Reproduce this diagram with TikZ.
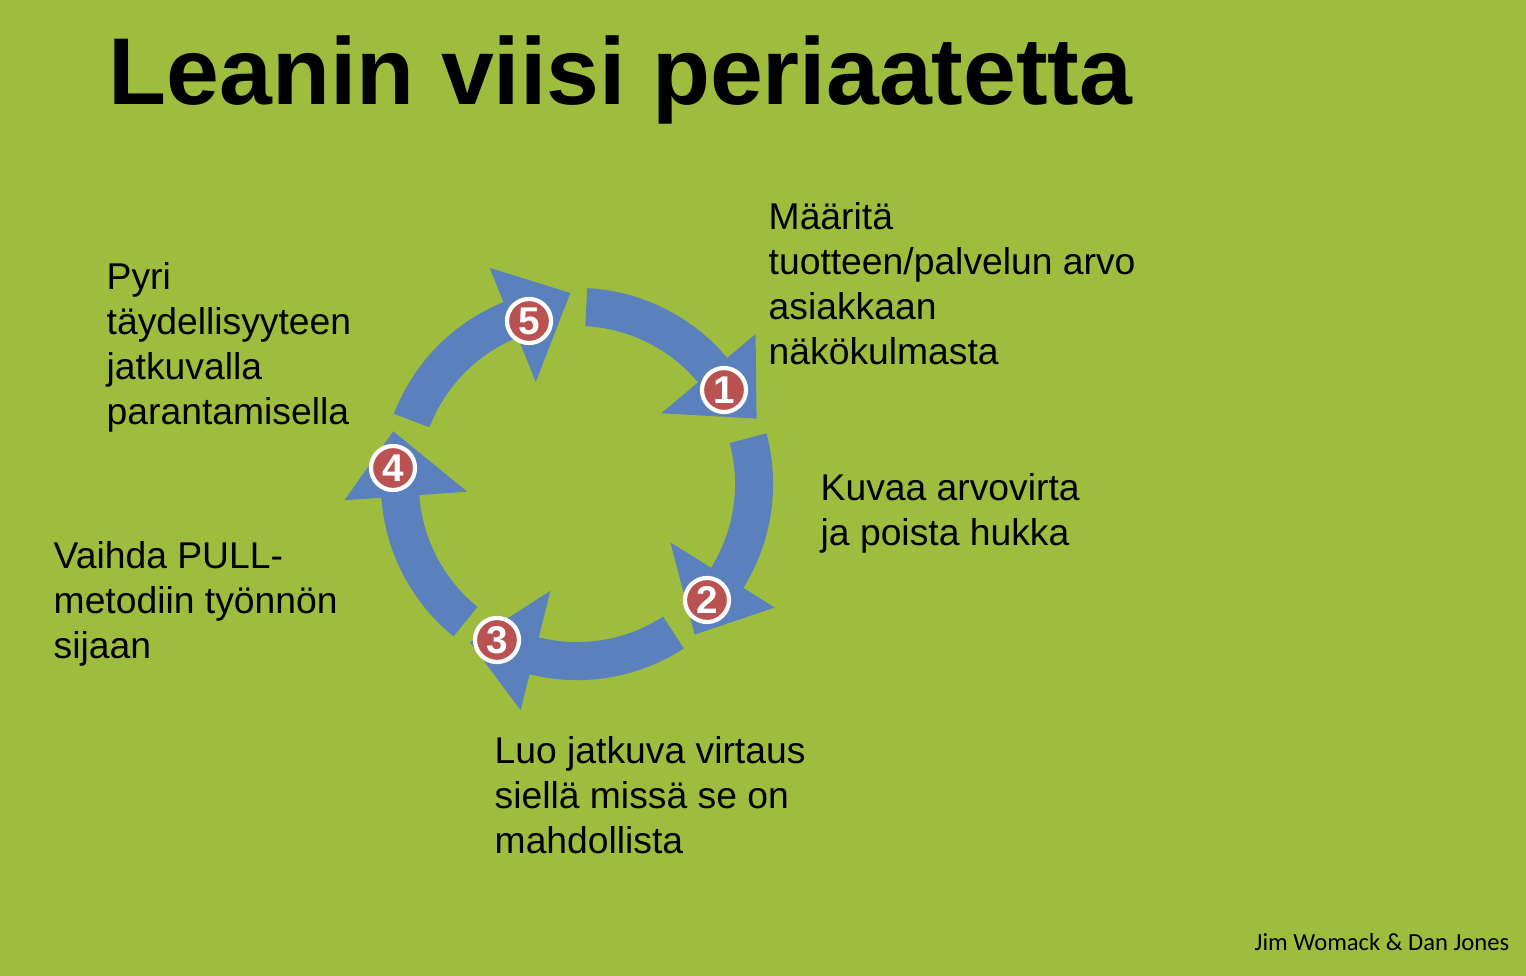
\documentclass[tikz,border=0pt]{standalone}
\usepackage{fontspec}
\setmainfont{Liberation Sans}
\newfontfamily\credfont{Carlito}
\definecolor{leafgreen}{RGB}{158,189,62}
\definecolor{flowblue}{RGB}{91,128,190}
\definecolor{badgered}{RGB}{186,82,82}
\begin{document}
\begin{tikzpicture}[
	x=0.01cm, y=-0.01cm,
	badge/.style={
		circle,
		draw=white,
		line width=1.2pt,
		fill=badgered,
		text=white,
		font=\bfseries\fontsize{11}{11}\selectfont,
		inner sep=0pt,
		minimum size=0.44cm
	},
	principle/.style={
		anchor=north west,
		align=left,
		inner sep=0pt,
		font=\fontsize{10.6}{12.8}\selectfont
	},
	flow/.style={fill=flowblue}
]
\fill[leafgreen] (0,0) rectangle (1526,976);

% Title
\node[anchor=base west, inner sep=0pt, font=\bfseries\fontsize{27}{30}\selectfont]
	(title) at (108,105) {Leanin viisi periaatetta};

% Arrows
\begin{scope}[shift={(577,484)}]
\foreach \a in {87, 15, -57, -129, -201}
	\fill[flow] (\a:1.58cm) arc[start angle=\a, end angle=\a-47, radius=1.58cm]
		-- (\a-47:1.10cm) -- (\a-67:1.91cm) -- (\a-47:2.33cm) -- (\a-47:1.96cm)
		arc[start angle=\a-47, end angle=\a, radius=1.96cm] -- cycle;
\end{scope}

% Badges
\node[badge] (b1) at (724,390) {1};
\node[badge] (b2) at (707,600) {2};
\node[badge] (b3) at (497,640) {3};
\node[badge] (b4) at (393,468) {4};
\node[badge] (b5) at (529,321) {5};

% Texts
\node[principle] (t1) at (768,202) {Määritä\\tuotteen/palvelun arvo\\asiakkaan\\näkökulmasta};
\node[principle] (t2) at (820,473) {Kuvaa arvovirta\\ja poista hukka};
\node[principle] (t3) at (494,736) {Luo jatkuva virtaus\\siellä missä se on\\mahdollista};
\node[principle] (t4) at (53,541) {Vaihda PULL-\\metodiin työnnön\\sijaan};
\node[principle] (t5) at (106,262) {Pyri\\täydellisyyteen\\jatkuvalla\\parantamisella};

\node[anchor=base east, inner sep=0pt, font=\credfont\fontsize{7}{8}\selectfont]
	(credit) at (1510,950) {Jim Womack \& Dan Jones};
\end{tikzpicture}
\end{document}
